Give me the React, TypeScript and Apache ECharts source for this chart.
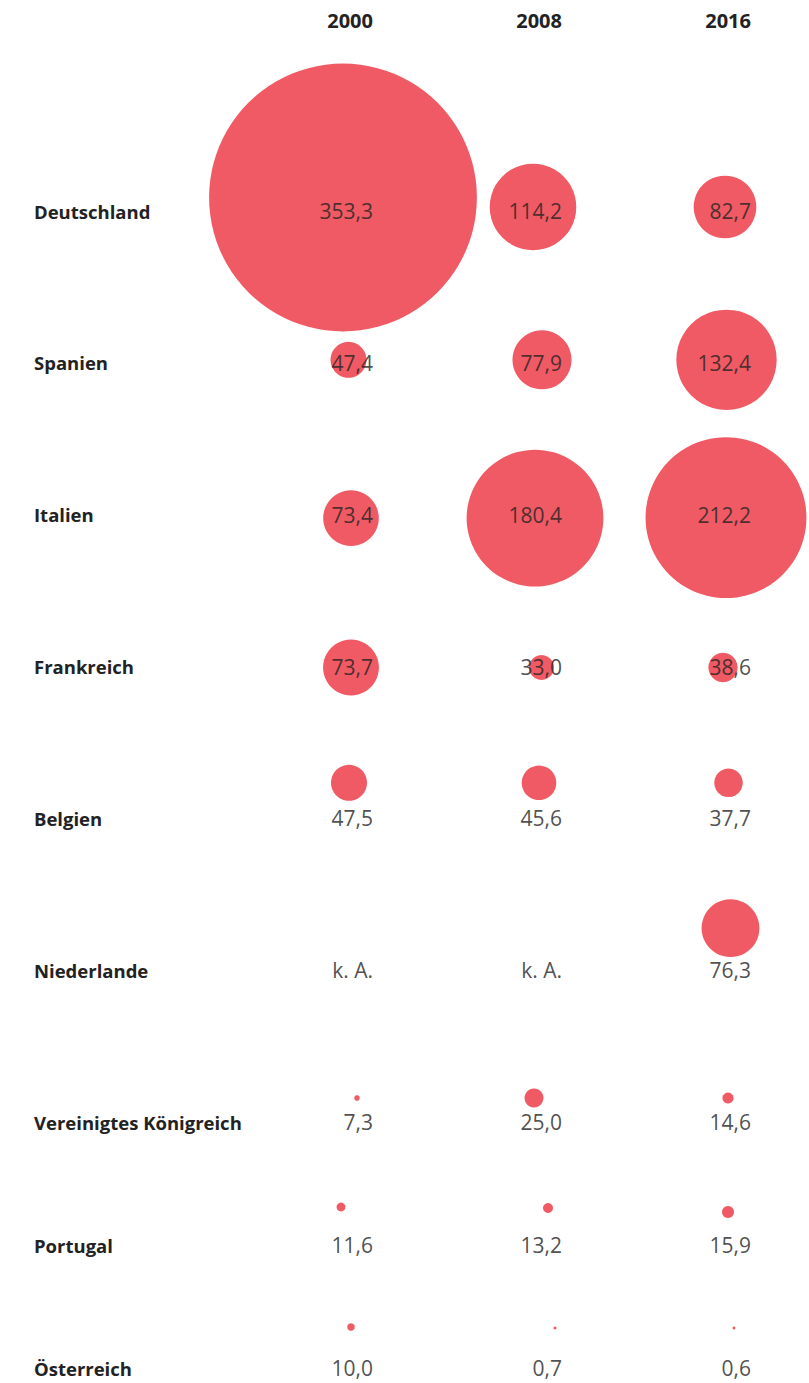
import React, { useEffect, useRef } from "react";
import * as echarts from "echarts";

// ---- data ----
const years = ["2000", "2008", "2016"];
const countries = [
  "Deutschland",
  "Spanien",
  "Italien",
  "Frankreich",
  "Belgien",
  "Niederlande",
  "Vereinigtes Königreich",
  "Portugal",
  "Österreich",
];
const values2000: (number | null)[] = [353.3, 47.4, 73.4, 73.7, 47.5, null, 7.3, 11.6, 10.0];
const values2008: (number | null)[] = [114.2, 77.9, 180.4, 33.0, 45.6, null, 25.0, 13.2, 0.7];
const values2016: (number | null)[] = [82.7, 132.4, 212.2, 38.6, 37.7, 76.3, 14.6, 15.9, 0.6];
const missingLabel = "k. A.";

// ---- layout / styling (not data) ----
const RADIUS_PER_UNIT = 0.379; // bubble radius grows linearly with value
const MIN_DIAMETER = 3;
// bubble centre offset from the value-label anchor (right edge / vertical centre), per country & year
const bubbleOffsets: [number, number][][] = [
  [[-30, -13.5], [-29, -4], [-26, -4]],
  [[-24.5, -3], [-20, -3], [-24.5, -3]],
  [[-22, 3.5], [-27, 3.5], [-25, 3]],
  [[-22, 1], [-20.5, 1], [-28, 1]],
  [[-24, -35.5], [-23, -35.5], [-22.5, -35.5]],
  [[0, 0], [0, 0], [-20.5, -42]],
  [[-16, -24], [-28, -24], [-23, -24]],
  [[-32, -38], [-14, -37], [-23, -33]],
  [[-22, -41], [-7, -40], [-17, -40]],
];
const BUBBLE = "#f05a64";
const FONT = "'Open Sans', sans-serif";
const SPLIT = 7; // rows in first grid (wider row spacing)

const yearValues = [values2000, values2008, values2016];

function fmt(v: number | null) {
  return v == null ? missingLabel : v.toFixed(1).replace(".", ",");
}

function buildBubbles(from: number, to: number) {
  const out: any[] = [];
  for (let c = from; c < to; c++) {
    for (let y = 0; y < years.length; y++) {
      const v = yearValues[y][c];
      if (v == null) continue;
      out.push({
        value: [y, c - from, v],
        symbolSize: Math.max(v * RADIUS_PER_UNIT * 2, MIN_DIAMETER),
        symbolOffset: bubbleOffsets[c][y],
      });
    }
  }
  return out;
}

function buildLabels(from: number, to: number) {
  const out: any[] = [];
  for (let c = from; c < to; c++) {
    for (let y = 0; y < years.length; y++) {
      const v = yearValues[y][c];
      out.push({ value: [y, c - from, v == null ? "-" : v], label: { formatter: fmt(v) } });
    }
  }
  return out;
}

export default function App() {
  const ref = useRef<HTMLDivElement>(null);
  useEffect(() => {
    document.body.style.margin = "0";
    if (!ref.current) return;
    const chart = echarts.init(ref.current, undefined, { renderer: "svg" });
    const labelStyle = {
      show: true,
      position: "inside",
      align: "right",
      verticalAlign: "middle",
      color: "#222",
      fontFamily: FONT,
      fontSize: 21,
    };
    const axisCommonX = {
      type: "category",
      data: years,
      boundaryGap: false,
      axisLine: { show: false },
      axisTick: { show: false },
      splitLine: { show: false },
    };
    const axisCommonY = {
      type: "category",
      inverse: true,
      boundaryGap: false,
      axisLine: { show: false },
      axisTick: { show: false },
      splitLine: { show: false },
      axisLabel: {
        align: "left",
        margin: 339,
        color: "#222",
        fontFamily: FONT,
        fontWeight: "bold",
        fontSize: 18.5,
        verticalAlign: "middle",
      },
    };
    chart.setOption({
      animation: false,
      backgroundColor: "#fff",
      grid: [
        { left: 373, right: 58, top: 211, bottom: 261 },
        { left: 373, right: 58, top: 1245, bottom: 15 },
      ],
      xAxis: [
        {
          ...axisCommonX,
          gridIndex: 0,
          position: "top",
          axisLabel: {
            align: "right",
            verticalAlign: "middle",
            margin: 191,
            color: "#222",
            fontFamily: FONT,
            fontWeight: "bold",
            fontSize: 20,
          },
        },
        { ...axisCommonX, gridIndex: 1, axisLabel: { show: false } },
      ],
      yAxis: [
        { ...axisCommonY, gridIndex: 0, data: countries.slice(0, SPLIT) },
        { ...axisCommonY, gridIndex: 1, data: countries.slice(SPLIT) },
      ],
      series: [
        {
          type: "scatter",
          xAxisIndex: 0,
          yAxisIndex: 0,
          clip: false,
          z: 2,
          itemStyle: { color: BUBBLE, opacity: 1 },
          data: buildBubbles(0, SPLIT),
          silent: true,
        },
        {
          type: "scatter",
          xAxisIndex: 1,
          yAxisIndex: 1,
          clip: false,
          z: 2,
          itemStyle: { color: BUBBLE, opacity: 1 },
          data: buildBubbles(SPLIT, countries.length),
          silent: true,
        },
        {
          type: "scatter",
          xAxisIndex: 0,
          yAxisIndex: 0,
          clip: false,
          z: 5,
          symbolSize: 1,
          itemStyle: { color: "rgba(0,0,0,0)" },
          label: labelStyle,
          data: buildLabels(0, SPLIT),
          silent: true,
        },
        {
          type: "scatter",
          xAxisIndex: 1,
          yAxisIndex: 1,
          clip: false,
          z: 5,
          symbolSize: 1,
          itemStyle: { color: "rgba(0,0,0,0)" },
          label: labelStyle,
          data: buildLabels(SPLIT, countries.length),
          silent: true,
        },
      ],
    });
    return () => chart.dispose();
  }, []);
  return <div ref={ref} style={{ width: 809, height: 1383 }} />;
}
